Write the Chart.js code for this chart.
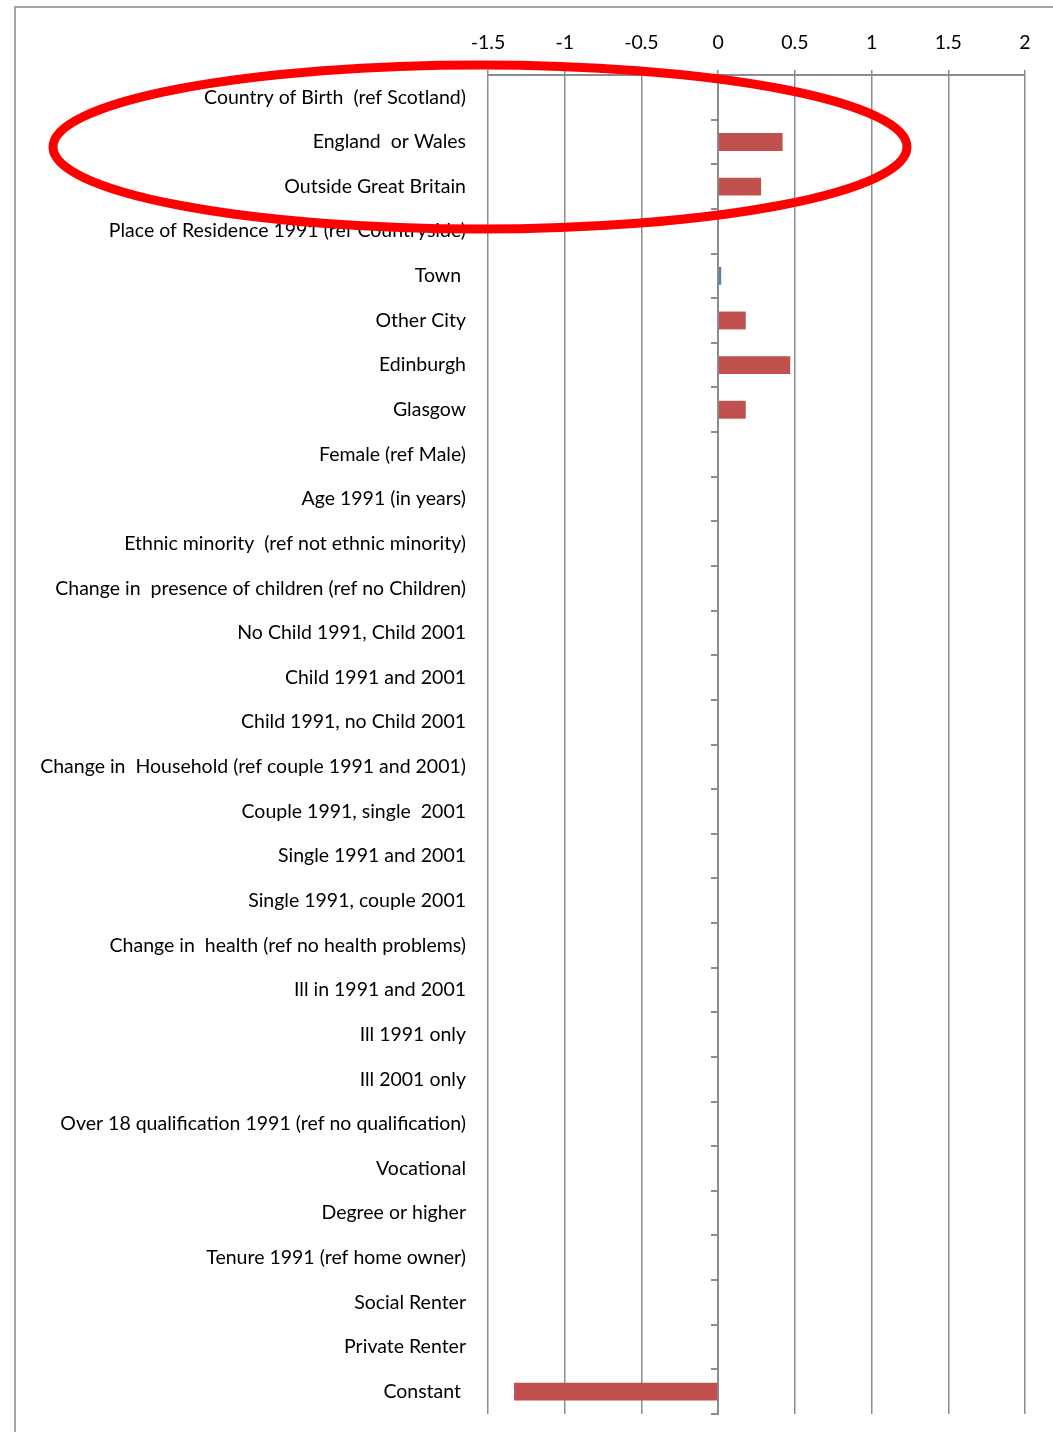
<!DOCTYPE html>
<html>
<head>
<meta charset="utf-8">
<script src="https://cdn.jsdelivr.net/npm/chart.js@4/dist/chart.umd.min.js"></script>
<style>
  html, body { margin: 0; padding: 0; background: #fff; overflow: hidden; }
  #wrap { position: relative; width: 1053px; height: 1432px; }
  #frame { position: absolute; left: 14px; top: 6px; width: 1100px; height: 1500px; border: 2px solid #a6a6a6; box-sizing: border-box; }
  #chart { position: absolute; left: 0; top: 0; }
</style>
</head>
<body>
<div id="wrap">
  <div id="frame"></div>
  <canvas id="chart" width="1053" height="1432"></canvas>
</div>
<script>
// Row labels, top to bottom
const categories = [
  "Country of Birth  (ref Scotland)",
  "England  or Wales",
  "Outside Great Britain",
  "Place of Residence 1991 (ref Countryside)",
  "Town ",
  "Other City",
  "Edinburgh",
  "Glasgow",
  "Female (ref Male)",
  "Age 1991 (in years)",
  "Ethnic minority  (ref not ethnic minority)",
  "Change in  presence of children (ref no Children)",
  "No Child 1991, Child 2001",
  "Child 1991 and 2001",
  "Child 1991, no Child 2001",
  "Change in  Household (ref couple 1991 and 2001)",
  "Couple 1991, single  2001",
  "Single 1991 and 2001",
  "Single 1991, couple 2001",
  "Change in  health (ref no health problems)",
  "Ill in 1991 and 2001",
  "Ill 1991 only",
  "Ill 2001 only",
  "Over 18 qualification 1991 (ref no qualification)",
  "Vocational",
  "Degree or higher",
  "Tenure 1991 (ref home owner)",
  "Social Renter",
  "Private Renter",
  "Constant "
];

// coefficients shown in red
const redValues = [
  null, 0.42, 0.28,
  null, null, 0.18, 0.47, 0.18,
  null, null, null,
  null, null, null, null,
  null, null, null, null,
  null, null, null, null,
  null, null, null,
  null, null, null,
  -1.33
];

// the one coefficient shown in blue
const blueValues = [
  null, null, null,
  null, 0.02, null, null, null,
  null, null, null,
  null, null, null, null,
  null, null, null, null,
  null, null, null, null,
  null, null, null,
  null, null, null,
  null
];

const xTicks = [-1.5, -1, -0.5, 0, 0.5, 1, 1.5, 2];

const FONT = "Lato";
const FONT_SIZE = 19.5;
const gridColor = "#8c8c8c";

// red ellipse drawn over the top of the chart
const ellipsePlugin = {
  id: "ellipse",
  afterDraw(chart) {
    const ctx = chart.ctx;
    ctx.save();
    ctx.beginPath();
    ctx.ellipse(480, 147, 427, 82, 0, 0, Math.PI * 2);
    ctx.strokeStyle = "#ff0000";
    ctx.lineWidth = 9;
    ctx.stroke();
    ctx.restore();
  }
};

const ctx = document.getElementById("chart").getContext("2d");
new Chart(ctx, {
  type: "bar",
  data: {
    labels: categories,
    datasets: [
      { data: redValues, backgroundColor: "#c0504d", grouped: false, barPercentage: 0.4, categoryPercentage: 1 },
      { data: blueValues, backgroundColor: "#4f81bd", grouped: false, barPercentage: 0.4, categoryPercentage: 1 }
    ]
  },
  options: {
    indexAxis: "y",
    responsive: false,
    animation: false,
    layout: { padding: { left: 0, right: 28, top: 0, bottom: 18 } },
    plugins: { legend: { display: false }, tooltip: { enabled: false } },
    scales: {
      x: {
        position: "top",
        min: -1.5,
        max: 2,
        afterBuildTicks: s => { s.ticks = xTicks.map(v => ({ value: v })); },
        afterFit: s => { s.height = 75; },
        grid: { color: gridColor, lineWidth: 1.5, tickLength: 5 },
        border: { color: gridColor, width: 2 },
        ticks: { color: "#000", font: { family: FONT, size: FONT_SIZE }, padding: 16, maxRotation: 0, callback: v => String(v) }
      },
      y: {
        position: "left",
        afterFit: s => { s.width = 488; s.paddingTop = 0; s.paddingBottom = 0; },
        grid: { display: false },
        border: { display: false },
        ticks: { color: "#000", font: { family: FONT, size: FONT_SIZE }, padding: 14, autoSkip: false }
      },
      y2: {
        type: "category",
        axis: "y",
        position: { x: 0 },
        offset: true,
        grid: { offset: true, drawOnChartArea: false, tickLength: 6, color: gridColor, lineWidth: 2 },
        border: { color: gridColor, width: 2 },
        ticks: { display: false }
      }
    }
  },
  plugins: [ellipsePlugin]
});
</script>
</body>
</html>
